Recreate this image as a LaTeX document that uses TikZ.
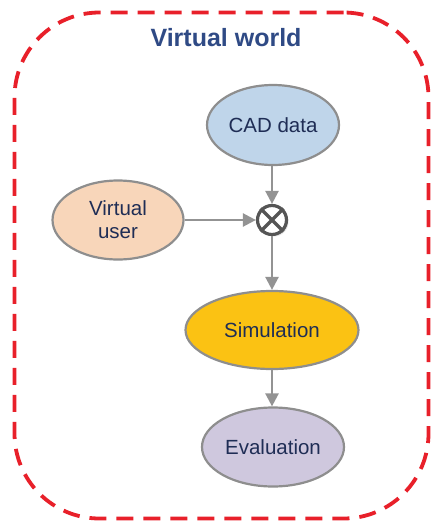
\documentclass[tikz,border=0pt]{standalone}
\usepackage{fontspec}
\setmainfont{Liberation Sans}
\usetikzlibrary{arrows.meta,shapes.geometric,shadows}
\definecolor{dashred}{HTML}{E8202A}
\definecolor{titleblue}{HTML}{2F4A85}
\definecolor{txt}{HTML}{1F2D55}
\definecolor{edge}{HTML}{8E8E8E}
\definecolor{arr}{HTML}{939393}
\definecolor{cadfill}{HTML}{BFD5EA}
\definecolor{userfill}{HTML}{F8D6BA}
\definecolor{simfill}{HTML}{FBC213}
\definecolor{evalfill}{HTML}{CFC8DE}
\definecolor{otc}{HTML}{555555}
\tikzset{
  ell/.style={ellipse, draw=edge, line width=2.2pt, inner sep=0pt, text=txt,
    font=\fontsize{20.5}{24}\selectfont, align=center},
  conn/.style={draw=arr, line width=2.4pt, -{Triangle[length=13pt,width=13pt]}},
}
\begin{document}
\begin{tikzpicture}[x=1pt,y=-1pt]
\useasboundingbox (0,0) rectangle (432,522);
\node[draw=dashred, line width=3.8pt, dash pattern=on 17pt off 10pt, rounded corners=85pt,
  minimum width=414pt, minimum height=506pt, inner sep=0pt] (frame) at (221.5,265.5) {};
\node[text=titleblue, font=\bfseries\fontsize{25}{30}\selectfont] (title) at (226,38) {Virtual world};
\node[ell, fill=cadfill, minimum width=132pt, minimum height=80pt] (cad) at (273,125) {CAD data};
\node[ell, fill=userfill, minimum width=131pt, minimum height=79pt] (user) at (118,220) {Virtual\\[-1pt]user};
\node[circle, draw=otc, line width=3.2pt, fill=white, minimum size=29pt, inner sep=0pt,
  drop shadow={shadow xshift=2pt, shadow yshift=-2pt, opacity=0.2}] (ot) at (272,220) {};
\draw[otc, line width=3.2pt] (ot.north west) -- (ot.south east) (ot.north east) -- (ot.south west);
\node[ell, fill=simfill, minimum width=173pt, minimum height=78pt] (sim) at (272,330) {Simulation};
\node[ell, fill=evalfill, minimum width=142pt, minimum height=79pt] (eval) at (273,447) {Evaluation};
\draw[conn] (cad.south -| ot) -- (ot.north);
\draw[conn] (user.east) -- (ot.west);
\draw[conn] (ot.south) -- (sim.north -| ot);
\draw[conn] (sim.south -| ot) -- (eval.north -| ot);
\end{tikzpicture}
\end{document}
